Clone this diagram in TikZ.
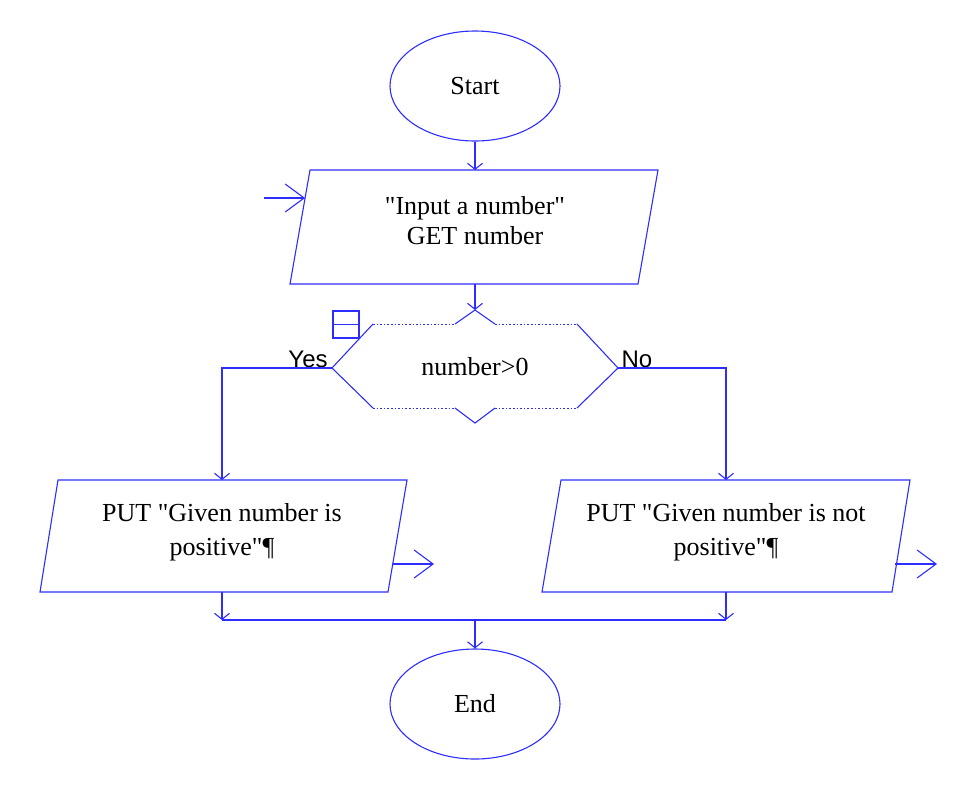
\documentclass[tikz,border=0pt]{standalone}
\usepackage{fontspec}
\setmainfont{Liberation Serif}[Ligatures=TeXOff]
\newfontfamily\labelfont{Liberation Sans}
\usetikzlibrary{arrows.meta,shapes.geometric}
\definecolor{fc}{RGB}{45,45,255}
\begin{document}
\begin{tikzpicture}[x=1pt,y=-1pt,
  line width=1.1pt,
  flow/.style={draw=fc, line width=1.1pt},
  downarr/.style={flow, -{Straight Barb[length=6pt,width=15pt,line width=1.1pt]}},
  sidearr/.style={flow, -{Straight Barb[length=19pt,width=28pt,line width=1.1pt]}},
  term/.style={draw=fc, line width=1.1pt, ellipse, minimum width=170pt, minimum height=110pt, inner sep=0pt, font=\fontsize{26}{30}\selectfont},
  txt/.style={align=center, inner sep=0pt},
  lab/.style={font=\labelfont\fontsize{24}{26}\selectfont, inner sep=0pt},
  dots/.style={draw=fc, line width=0.8pt, dash pattern=on 1.6pt off 2pt}
]
\useasboundingbox (0,0) rectangle (968,793);

% terminals
\node[term] (start) at (475,86) {Start};
\node[term] (end) at (475,704) {End};

% input parallelogram
\coordinate (inTL) at (310,170);
\coordinate (inTR) at (658,170);
\coordinate (inBR) at (638,284);
\coordinate (inBL) at (290,284);
\coordinate (inTop) at (475,170);
\coordinate (inBot) at (475,284);
\coordinate (inEntry) at (305.1,198);
\coordinate (inFree) at (264,198);
\draw[flow] (inTL) -- (inTR) -- (inBR) -- (inBL) -- cycle;
\node[txt, font=\fontsize{26}{30}\selectfont] (intext) at (475,221) {"Input a number"\\GET number};

% decision
\coordinate (dL) at (332,368);
\coordinate (dR) at (618,368);
\coordinate (dTL) at (373,324);
\coordinate (dTR) at (577,324);
\coordinate (dBL) at (373,408);
\coordinate (dBR) at (577,408);
\coordinate (dT1) at (455,324);
\coordinate (dT2) at (495,324);
\coordinate (dTop) at (475,310);
\coordinate (dB1) at (455,408);
\coordinate (dB2) at (495,408);
\coordinate (dBot) at (475,423);
\draw[flow] (dBL) -- (dL) -- (dTL);
\draw[flow] (dTR) -- (dR) -- (dBR);
\draw[flow] (dT1) -- (dTop) -- (dT2);
\draw[flow] (dB1) -- (dBot) -- (dB2);
\draw[dots] (dTL) -- (dT1) (dT2) -- (dTR);
\draw[dots] (dBL) -- (dB1) (dB2) -- (dBR);
\node[font=\fontsize{26}{30}\selectfont, inner sep=0pt] (dtext) at (475,367) {number>0};
% small box icon
\node[draw=fc, line width=1.1pt, minimum width=26pt, minimum height=27pt, inner sep=0pt] (icon) at (346,324.5) {};
\draw[flow] (icon.west) -- (icon.east);

\node[lab] (yes) at (308,359) {Yes};
\node[lab] (no) at (637,359) {No};

% left output
\coordinate (pTL) at (58,480);
\coordinate (pTR) at (407,480);
\coordinate (pBR) at (388,592);
\coordinate (pBL) at (40,592);
\coordinate (pTop) at (222,480);
\coordinate (pBot) at (222,592);
\coordinate (pOut) at (392.7,564);
\coordinate (pOutEnd) at (434,564);
\draw[flow] (pTL) -- (pTR) -- (pBR) -- (pBL) -- cycle;
\node[txt, font=\fontsize{26}{34}\selectfont] (ptext) at (222,532) {PUT "Given number is\\positive"¶};

% right output
\coordinate (qTL) at (561,480);
\coordinate (qTR) at (910,480);
\coordinate (qBR) at (892,592);
\coordinate (qBL) at (542,592);
\coordinate (qTop) at (726,480);
\coordinate (qBot) at (726,592);
\coordinate (qOut) at (895.3,564);
\coordinate (qOutEnd) at (937,564);
\draw[flow] (qTL) -- (qTR) -- (qBR) -- (qBL) -- cycle;
\node[txt, font=\fontsize{26}{34}\selectfont] (qtext) at (726,532) {PUT "Given number is not\\positive"¶};

% join
\coordinate (jL) at (222,620);
\coordinate (jR) at (726,620);
\coordinate (jM) at (475,620);

% connectors
\draw[downarr] (start.south) -- (inTop);
\draw[sidearr] (inFree) -- (inEntry);
\draw[downarr] (inBot) -- (dTop);
\draw[downarr] (dL) -- (222,368) -- (pTop);
\draw[downarr] (dR) -- (726,368) -- (qTop);
\draw[sidearr] (pOut) -- (pOutEnd);
\draw[sidearr] (qOut) -- (qOutEnd);
\draw[downarr] (pBot) -- (jL);
\draw[downarr] (qBot) -- (jR);
\draw[flow] (jL) -- (jR);
\draw[downarr] (jM) -- (end.north);
\end{tikzpicture}
\end{document}
